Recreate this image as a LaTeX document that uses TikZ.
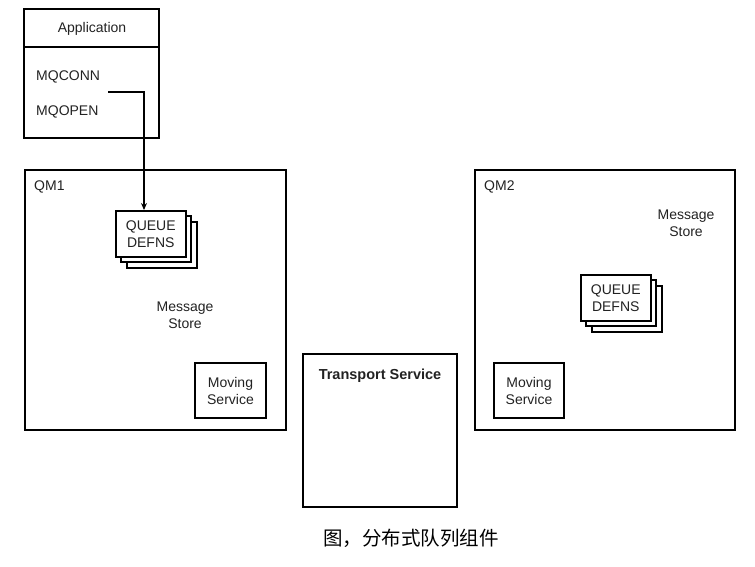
\documentclass[tikz,border=0pt]{standalone}
\usepackage{fontspec}
\setmainfont{Liberation Sans}
\newfontfamily\cjk{Noto Sans CJK SC}
\usetikzlibrary{arrows.meta}
\definecolor{txt}{HTML}{222222}
\begin{document}
\begin{tikzpicture}[x=1pt,y=-1pt,
  frame/.style={draw,line width=1.8pt},
  qstack/.style={draw,fill=white,line width=1.5pt},
  lbl/.style={font=\fontsize{14}{17}\selectfont,inner sep=0pt,align=center,text=txt},
  conn/.style={line width=1.6pt,-{Stealth[length=7pt,width=6pt]}}]
\useasboundingbox (0,0) rectangle (755,566);
% Application
\draw[frame] (24,9) rectangle (159,138);
\draw[frame] (24,47) -- (159,47);
\node[lbl] (app) at (92,28.5) {Application};
\node[lbl,anchor=west] (conn) at (36,76.5) {MQCONN};
\node[lbl,anchor=west] (open) at (36,111.5) {MQOPEN};
\coordinate (cstart) at (108,92);
% QM1
\draw[frame] (25,170) rectangle (286,430);
\node[lbl,anchor=west] (qm1) at (34,186.5) {QM1};
\draw[qstack] (127,222) rectangle (197,268);
\draw[qstack] (121,216) rectangle (191,262);
\node[qstack,lbl,minimum width=70pt,minimum height=46pt,anchor=north west] (qd1) at (115,210) {QUEUE\\DEFNS};
\node[lbl] (ms1) at (185,315.5) {Message\\Store};
\node[draw,lbl,line width=1.5pt,minimum width=71pt,minimum height=55pt] (mv1) at (230.5,390.5) {Moving\\Service};
\draw[conn] (cstart) -| (qd1.north -| 144,0);
% QM2
\draw[frame] (475,170) rectangle (735,430);
\node[lbl,anchor=west] (qm2) at (484,186.5) {QM2};
\node[lbl] (ms2) at (686,223.5) {Message\\Store};
\draw[qstack] (592,286) rectangle (662,332);
\draw[qstack] (586,280) rectangle (656,326);
\node[qstack,lbl,minimum width=70pt,minimum height=46pt,anchor=north west] (qd2) at (580,274) {QUEUE\\DEFNS};
\node[draw,lbl,line width=1.5pt,minimum width=70pt,minimum height=55pt] (mv2) at (529,390.5) {Moving\\Service};
% Transport
\draw[frame] (303,354) rectangle (457,507);
\node[lbl,font=\bfseries\fontsize{14.5}{17}\selectfont] (ts) at (380,375.5) {Transport Service};
% caption
\node[inner sep=0pt,font=\cjk\fontsize{19.5}{22}\selectfont] (cap) at (411,538) {图，分布式队列组件};
\end{tikzpicture}
\end{document}
